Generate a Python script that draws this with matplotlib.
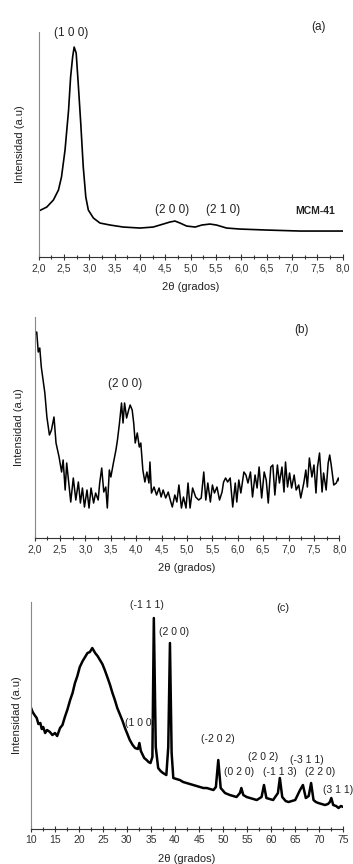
import matplotlib
matplotlib.use("Agg")
import matplotlib.pyplot as plt

plt.rcParams["font.family"] = ["Liberation Sans", "DejaVu Sans"]

# ---- (a) MCM-41, low angle ------------------------------------------------
a_x = [2.0, 2.16, 2.29, 2.39, 2.45, 2.52, 2.59, 2.63, 2.67, 2.70, 2.74, 2.78,
       2.83, 2.88, 2.93, 2.98, 3.08, 3.21, 3.41, 3.67, 4.0, 4.26, 4.46, 4.59,
       4.69, 4.79, 4.92, 5.09, 5.22, 5.38, 5.51, 5.71, 5.97, 6.5, 7.16, 8.0]
a_y = [46, 50, 57, 67, 80, 107, 147, 180, 200, 210, 204, 174,
       134, 90, 60, 47, 39, 34, 32, 30, 29, 30, 33, 35,
       36, 34, 31, 30, 32, 33, 32, 29, 28, 27, 26, 26]
a_labels = ["(1 0 0)", "(2 0 0)", "(2 1 0)"]
a_label_pos = [(2.65, 224), (4.63, 47), (5.64, 47)]

# ---- (b) low angle, noisy -----------------------------------------------
b_x = [2.0, 2.04, 2.07, 2.1, 2.13, 2.2, 2.24, 2.29, 2.33, 2.38, 2.42, 2.48,
       2.53, 2.56, 2.6, 2.63, 2.67, 2.71, 2.76, 2.81, 2.86, 2.9, 2.94, 2.98,
       3.03, 3.07, 3.11, 3.16, 3.2, 3.25, 3.28, 3.32, 3.36, 3.4, 3.43, 3.47,
       3.5, 3.55, 3.6, 3.63, 3.67, 3.71, 3.74, 3.77, 3.81, 3.85, 3.88, 3.92,
       3.95, 3.98, 4.02, 4.06, 4.09, 4.13, 4.17, 4.21, 4.25, 4.27, 4.3, 4.35,
       4.4, 4.45, 4.49, 4.53, 4.58, 4.63, 4.67, 4.71, 4.76, 4.8, 4.84, 4.89,
       4.93, 4.98, 5.02, 5.06, 5.11, 5.17, 5.23, 5.28, 5.33, 5.37, 5.41, 5.46,
       5.5, 5.54, 5.59, 5.64, 5.69, 5.72, 5.76, 5.8, 5.85, 5.9, 5.95, 5.98,
       6.02, 6.06, 6.12, 6.16, 6.2, 6.25, 6.29, 6.34, 6.38, 6.42, 6.47, 6.52,
       6.56, 6.6, 6.65, 6.69, 6.73, 6.78, 6.82, 6.87, 6.91, 6.94, 6.98, 7.02,
       7.06, 7.11, 7.15, 7.2, 7.24, 7.3, 7.34, 7.37, 7.41, 7.46, 7.5, 7.54,
       7.57, 7.61, 7.66, 7.69, 7.74, 7.78, 7.81, 7.84, 7.89, 7.94, 7.98, 8.0]
b_y = [203, 206, 186, 190, 171, 145, 121, 103, 108, 121, 95, 81,
       66, 78, 48, 75, 56, 36, 60, 38, 56, 35, 50, 31,
       48, 30, 50, 35, 45, 38, 55, 70, 46, 51, 30, 68,
       61, 75, 88, 98, 115, 135, 115, 135, 120, 128, 133, 128,
       115, 95, 105, 91, 95, 68, 56, 66, 55, 76, 45, 51,
       43, 50, 41, 48, 40, 46, 38, 31, 43, 36, 53, 30,
       41, 30, 55, 30, 50, 41, 38, 40, 66, 38, 55, 36,
       53, 45, 51, 38, 46, 56, 60, 56, 60, 31, 55, 36,
       58, 45, 66, 63, 55, 66, 41, 63, 50, 71, 40, 66,
       58, 35, 71, 73, 43, 73, 55, 71, 46, 76, 51, 65,
       50, 63, 48, 53, 40, 55, 68, 51, 80, 61, 73, 45,
       71, 85, 46, 65, 48, 75, 83, 73, 53, 55, 60, 57]

# ---- (c) wide angle ---------------------------------------------------------
c_x = [10.0, 10.4, 10.8, 11.25, 11.6, 12.0, 12.3, 12.6, 13.0, 13.4, 14.0,
       14.5, 15.05, 15.5, 16.1, 16.6, 17.1, 17.6, 18.2, 18.7, 19.2, 19.7,
       20.2, 20.8, 21.3, 21.8, 22.3, 22.8, 23.4, 23.9, 24.4, 24.9, 25.4,
       26.0, 26.5, 27.0, 27.5, 28.0, 28.6, 29.1, 29.6, 30.1, 30.6, 31.2,
       31.7, 32.3, 32.6, 32.9, 33.1, 33.6, 34.1, 34.5, 34.9, 35.3, 35.6,
       36.0, 36.5, 37.0, 37.5, 38.2, 38.6, 38.95, 39.3, 39.65, 40.3, 41.0,
       41.7, 42.4, 43.1, 43.8, 44.5, 45.2, 45.9, 46.6, 47.3, 48.0, 48.5,
       49.0, 49.5, 50.4, 51.4, 52.1, 52.8, 53.5, 53.8, 54.2, 54.9, 55.6,
       56.3, 57.0, 58.0, 58.5, 59.0, 59.7, 60.4, 61.4, 61.8, 62.3, 63.0,
       63.6, 64.3, 65.0, 66.0, 66.6, 67.2, 67.8, 68.3, 68.8, 69.3, 69.8,
       70.5, 71.2, 71.8, 72.2, 72.5, 72.9, 73.5, 74.0, 74.5, 75.0]
c_y = [122, 117, 114, 111, 105, 106, 100, 102, 96, 99, 97,
       94, 96, 93, 101, 104, 112, 119, 129, 136, 146, 153,
       162, 168, 172, 176, 177, 181, 176, 173, 169, 165, 159,
       151, 144, 136, 129, 121, 114, 108, 101, 95, 89, 84,
       81, 80, 86, 78, 76, 71, 69, 67, 66, 72, 211,
       82, 61, 58, 56, 54, 82, 186, 76, 51, 50, 49,
       47, 46, 45, 44, 43, 42, 41, 41, 40, 39, 42,
       69, 41, 36, 34, 33, 32, 36, 41, 34, 32, 31,
       30, 29, 32, 44, 31, 30, 29, 36, 51, 32, 28,
       27, 28, 29, 39, 44, 31, 33, 46, 29, 27, 26,
       25, 24, 25, 27, 31, 24, 23, 21, 23, 22]
c_labels = ["(-1 1 1)", "(2 0 0)", "(1 0 0)", "(-2 0 2)", "(0 2 0)", "(2 0 2)",
            "(-1 1 3)", "(-3 1 1)", "(2 2 0)", "(3 1 1)"]
c_label_pos = [(34.2, 224), (39.8, 197), (32.7, 106), (49.0, 90), (53.4, 57),
               (58.4, 72), (61.8, 57), (67.4, 69), (70.2, 57), (73.9, 39)]

txt = "#222222"


def style(ax, lo, hi, step, ymax, ypad):
    ax.set_xlim(lo, hi)
    ax.set_ylim(0, ymax)
    for s in ("top", "right"):
        ax.spines[s].set_visible(False)
    ax.spines["left"].set_color("#888888")
    ax.spines["bottom"].set_color("#333333")
    ax.set_yticks([])
    n = int(round((hi - lo) / step))
    ticks = [lo + i * step for i in range(n + 1)]
    ax.set_xticks(ticks)
    if step < 1:
        ax.set_xticklabels([f"{t:.1f}".replace(".", ",") for t in ticks])
    else:
        ax.set_xticklabels([f"{t:.0f}" for t in ticks])
    ax.set_xticks([t + step / 2 for t in ticks[:-1]], minor=True)
    ax.tick_params(axis="x", which="major", direction="inout", length=4,
                   width=0.8, labelsize=7.5, pad=2.5, colors="#333333")
    ax.tick_params(axis="x", which="minor", direction="inout", length=3,
                   width=0.8, colors="#333333")
    ax.set_xlabel("2θ (grados)", fontsize=8, color=txt, labelpad=6.5)
    ax.set_ylabel("Intensidad (a.u)", fontsize=8, color=txt, labelpad=ypad)


fig = plt.figure(figsize=(3.53, 8.64), dpi=100)
ax_a = fig.add_axes([0.1096, 0.7025, 0.861, 0.2604])
ax_b = fig.add_axes([0.0983, 0.3773, 0.863, 0.2558])
ax_c = fig.add_axes([0.0870, 0.0405, 0.8856, 0.2627])

# (a)
ax_a.plot(a_x, a_y, color="black", lw=1.2)
style(ax_a, 2.0, 8.0, 0.5, 225, 10)
for lab, (x, y) in zip(a_labels, a_label_pos):
    ax_a.text(x, y, lab, fontsize=8.5, ha="center", va="center", color=txt,
              clip_on=False)
ax_a.text(7.53, 230, "(a)", fontsize=8.5, ha="center", va="center", color=txt,
          clip_on=False)
ax_a.text(7.46, 46, "MCM-41", fontsize=7.5, ha="center", va="center",
          fontweight="bold", color=txt)

# (b)
ax_b.plot(b_x, b_y, color="black", lw=1.1)
style(ax_b, 2.0, 8.0, 0.5, 221, 7.5)
ax_b.text(3.78, 154, "(2 0 0)", fontsize=8.5, ha="center", va="center", color=txt)
ax_b.text(7.26, 208, "(b)", fontsize=8.5, ha="center", va="center", color=txt)

# (c)
ax_c.plot(c_x, c_y, color="black", lw=1.8)
style(ax_c, 10, 75, 5, 227, 6)
for lab, (x, y) in zip(c_labels, c_label_pos):
    ax_c.text(x, y, lab, fontsize=7.5, ha="center", va="center", color=txt,
              clip_on=False)
ax_c.text(62.5, 221, "(c)", fontsize=8, ha="center", va="center", color=txt)

fig.savefig("out.png", dpi=100)
